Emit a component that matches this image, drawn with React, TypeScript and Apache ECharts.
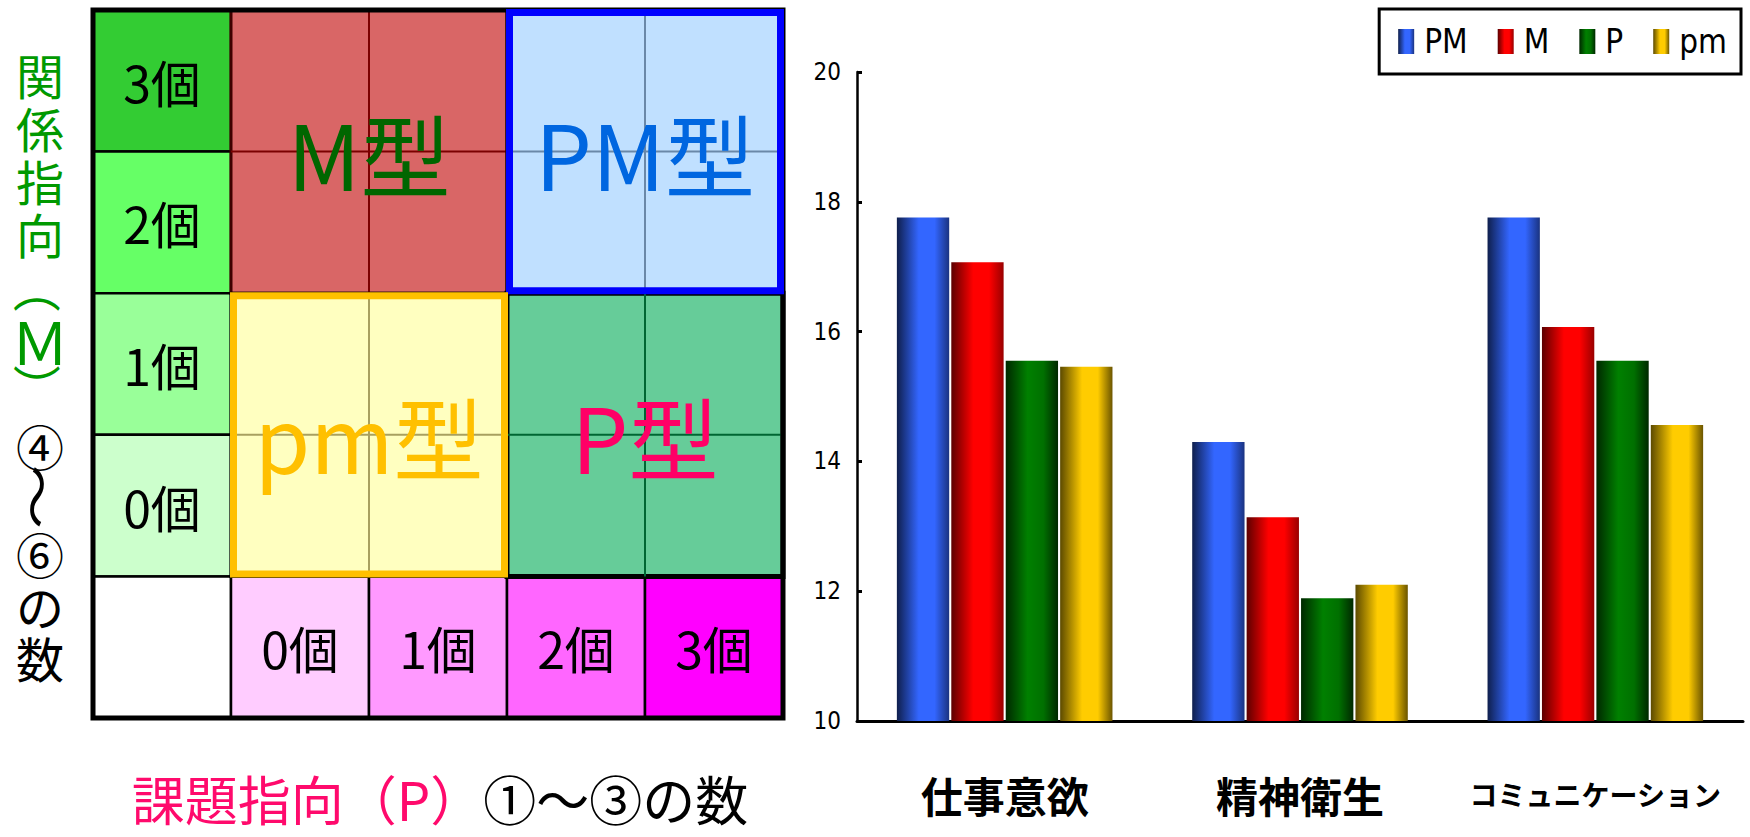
import React, { useEffect, useRef } from 'react';
import * as echarts from 'echarts';

// ---------- Bar chart data ----------
const categories = ['仕事意欲', '精神衛生', 'コミュニケーション'];
const seriesNames = ['PM', 'M', 'P', 'pm'];
const valuesPM = [17.76, 14.3, 17.76];
const valuesM = [17.07, 13.14, 16.07];
const valuesP = [15.55, 11.89, 15.55];
const valuesPm = [15.46, 12.1, 14.56];
const yMin = 10;
const yMax = 20;
const yInterval = 2;

// ---------- PM matrix data ----------
const mCountLabels = ['3個', '2個', '1個', '0個']; // left column, top to bottom
const pCountLabels = ['0個', '1個', '2個', '3個']; // bottom row, left to right
const typeLabels = [
  ['M型', 'PM型'],
  ['pm型', 'P型'],
];
const matrixSize = 5;
const xTitleColored = '課題指向（P）';
const xTitlePlain = '①～③の数';

// ---------- styles ----------
const mCountColors = ['#33cc33', '#66ff66', '#99ff99', '#ccffcc'];
const pCountColors = ['#ffccff', '#ff99ff', '#ff66ff', '#ff00ff'];
const typeFill = [
  ['#d96666', '#c0e0ff'],
  ['#ffffc0', '#66cc99'],
];
const typeTextColor = [
  ['#006600', '#0066e0'],
  ['#ffc000', '#ff0066'],
];
const typeInnerLine = [
  ['#7a0000', '#6a88a8'],
  ['#a8a060', '#006633'],
];
const typeEdge = [
  [{ c: '#400000', w: 3 }, { c: '#000000', w: 3 }],
  [{ c: '#000000', w: 3 }, { c: '#000000', w: 5 }],
];
const typeHighlight = [
  [null, '#0000ff'],
  ['#ffc000', null],
];

const barGradients = [
  ['#0f1f4d', '#3366ff', '#3366ff', '#1a3380'],
  ['#5c0000', '#ff0000', '#ff0000', '#990000'],
  ['#002800', '#008000', '#007000', '#002800'],
  ['#5c4a00', '#ffcc00', '#ffcc00', '#6b5500'],
];

const jpFont = "'Noto Sans CJK JP', sans-serif";
const narrowFont = "'Liberation Sans Narrow', 'DejaVu Sans Condensed', 'Liberation Sans', sans-serif";

const grad = (stops: string[]) =>
  new echarts.graphic.LinearGradient(0, 0, 1, 0, [
    { offset: 0, color: stops[0] },
    { offset: 0.42, color: stops[1] },
    { offset: 0.72, color: stops[2] },
    { offset: 1, color: stops[3] },
  ]);

// header cells of the matrix
const cellItems = [
  ...mCountLabels.map((label, i) => ({ value: [0, i, 1, 1], label, color: mCountColors[i] })),
  { value: [0, 4, 1, 1], label: '', color: '#ffffff' },
  ...pCountLabels.map((label, j) => ({ value: [j + 1, 4, 1, 1], label, color: pCountColors[j] })),
];

const typeItems: any[] = [];
typeLabels.forEach((row, i) =>
  row.forEach((label, j) => typeItems.push({ value: [1 + 2 * j, 2 * i, 2, 2], label, i, j }))
);
const highlightItems = typeItems.filter((c) => typeHighlight[c.i][c.j]);

const cellBox = (api: any) => {
  const a = api.coord([api.value(0), api.value(1)]);
  const b = api.coord([api.value(0) + api.value(2), api.value(1) + api.value(3)]);
  return { x0: a[0], y0: a[1], x1: b[0], y1: b[1] };
};

// vertical y-title pieces (stacked characters; some rotated as in vertical writing)
const verticalTitle: any[] = [
  { t: '関\n係\n指\n向', y: 153.5, c: '#009900', lh: 53 },
  { t: '（', y: 289, c: '#009900', r: -Math.PI / 2 },
  { t: 'Ｍ', y: 340, c: '#009900', f: 58 },
  { t: '）', y: 388, c: '#009900', r: -Math.PI / 2 },
  { t: '④', y: 445, c: '#000000' },
  { t: '～', y: 497, c: '#000000', r: -Math.PI / 2, sx: 1.35 },
  { t: '⑥\nの\n数', y: 605, c: '#000000', lh: 52 },
];

const buildOption = () => {
  const barData = [valuesPM, valuesM, valuesP, valuesPm];
  return {
    animation: false,
    backgroundColor: '#ffffff',
    legend: {
      data: seriesNames,
      right: 9,
      top: 9,
      orient: 'horizontal',
      icon: 'rect',
      itemWidth: 16,
      itemHeight: 25,
      itemGap: 30,
      padding: [16, 14, 16, 19],
      borderColor: '#000',
      borderWidth: 3,
      textStyle: {
        fontFamily: narrowFont,
        fontSize: 33,
        color: '#000',
        padding: [0, 0, 0, 5],
      },
    },
    grid: [
      { left: 857, right: 7, top: 72, bottom: 116 },
      { left: 93, top: 10, width: 690, height: 708 },
    ],
    xAxis: [
      {
        type: 'category',
        gridIndex: 0,
        data: categories,
        axisLine: { lineStyle: { color: '#000', width: 3 } },
        axisTick: { inside: true, length: 16, lineStyle: { color: '#000', width: 2 } },
        axisLabel: {
          margin: 48,
          interval: 0,
          formatter: (v: string) => (v.length > 6 ? `{s|${v}}` : `{b|${v}}`),
          rich: {
            b: { fontFamily: jpFont, fontWeight: 'bold', fontSize: 42, color: '#000', lineHeight: 50 },
            s: { fontFamily: jpFont, fontWeight: 'bold', fontSize: 28, color: '#000', lineHeight: 50 },
          },
        },
      },
      { type: 'value', gridIndex: 1, min: 0, max: matrixSize, show: false },
    ],
    yAxis: [
      {
        type: 'value',
        gridIndex: 0,
        min: yMin,
        max: yMax,
        interval: yInterval,
        axisLine: { show: true, lineStyle: { color: '#000', width: 2.5 } },
        axisTick: { show: true, inside: true, length: 5, lineStyle: { color: '#000', width: 3 } },
        splitLine: { show: false },
        axisLabel: { fontFamily: narrowFont, fontSize: 24, color: '#000', margin: 16 },
      },
      { type: 'value', gridIndex: 1, min: 0, max: matrixSize, inverse: true, show: false },
    ],
    series: [
      ...seriesNames.map((name, k) => ({
        name,
        type: 'bar',
        xAxisIndex: 0,
        yAxisIndex: 0,
        data: barData[k],
        barCategoryGap: '27%',
        barGap: '4%',
        itemStyle: { color: grad(barGradients[k]) },
      })),
      {
        type: 'custom',
        name: 'cells',
        xAxisIndex: 1,
        yAxisIndex: 1,
        z: 2,
        data: cellItems.map((c) => ({ value: c.value, name: c.label })),
        renderItem: (params: any, api: any) => {
          const it = cellItems[params.dataIndex];
          const { x0, y0, x1, y1 } = cellBox(api);
          return {
            type: 'group',
            children: [
              {
                type: 'rect',
                shape: { x: x0, y: y0, width: x1 - x0, height: y1 - y0 },
                style: { fill: it.color, stroke: '#000', lineWidth: 2.5 },
              },
              {
                type: 'text',
                style: {
                  text: it.label,
                  x: (x0 + x1) / 2,
                  y: (y0 + y1) / 2,
                  align: 'center',
                  verticalAlign: 'middle',
                  fontSize: 50,
                  fontFamily: jpFont,
                  fill: '#000',
                },
              },
            ],
          };
        },
      },
      {
        type: 'custom',
        name: 'types',
        xAxisIndex: 1,
        yAxisIndex: 1,
        z: 3,
        data: typeItems.map((c) => ({ value: c.value, name: c.label })),
        renderItem: (params: any, api: any) => {
          const it = typeItems[params.dataIndex];
          const { x0, y0, x1, y1 } = cellBox(api);
          const mx = (x0 + x1) / 2;
          const my = (y0 + y1) / 2;
          const edge = typeEdge[it.i][it.j];
          const inner = typeInnerLine[it.i][it.j];
          return {
            type: 'group',
            children: [
              {
                type: 'rect',
                shape: { x: x0, y: y0, width: x1 - x0, height: y1 - y0 },
                style: { fill: typeFill[it.i][it.j], stroke: edge.c, lineWidth: edge.w },
              },
              { type: 'line', shape: { x1: mx, y1: y0, x2: mx, y2: y1 }, style: { stroke: inner, lineWidth: 2 } },
              { type: 'line', shape: { x1: x0, y1: my, x2: x1, y2: my }, style: { stroke: inner, lineWidth: 2 } },
              {
                type: 'text',
                style: {
                  text: it.label,
                  x: mx,
                  y: my,
                  align: 'center',
                  verticalAlign: 'middle',
                  fontSize: 90,
                  fontFamily: jpFont,
                  fill: typeTextColor[it.i][it.j],
                },
              },
            ],
          };
        },
      },
      {
        type: 'custom',
        name: 'frame',
        xAxisIndex: 1,
        yAxisIndex: 1,
        z: 4,
        data: [{ value: [0, 0, matrixSize, matrixSize] }],
        renderItem: (params: any, api: any) => {
          const { x0, y0, x1, y1 } = cellBox(api);
          return {
            type: 'rect',
            shape: { x: x0, y: y0, width: x1 - x0, height: y1 - y0 },
            style: { fill: 'none', stroke: '#000', lineWidth: 5 },
          };
        },
      },
      {
        type: 'custom',
        name: 'highlight',
        xAxisIndex: 1,
        yAxisIndex: 1,
        z: 5,
        data: highlightItems.map((c) => ({ value: c.value, name: c.label })),
        renderItem: (params: any, api: any) => {
          const it = highlightItems[params.dataIndex];
          const { x0, y0, x1, y1 } = cellBox(api);
          const inset = 2.5;
          return {
            type: 'rect',
            shape: { x: x0 + inset, y: y0 + inset, width: x1 - x0 - 2 * inset, height: y1 - y0 - 2 * inset },
            style: { fill: 'none', stroke: typeHighlight[it.i][it.j], lineWidth: 7 },
          };
        },
      },
    ],
    graphic: [
      ...verticalTitle.map((ch) => ({
        type: 'text',
        x: 40,
        y: ch.y,
        rotation: ch.r || 0,
        scaleX: ch.sx || 1,
        style: {
          text: ch.t,
          x: 0,
          y: 0,
          align: 'center',
          verticalAlign: 'middle',
          fontSize: ch.f || 48,
          lineHeight: ch.lh,
          fontFamily: jpFont,
          fill: ch.c,
        },
      })),
      {
        type: 'text',
        x: 440,
        y: 798,
        style: {
          text: `{p|${xTitleColored}}{k|${xTitlePlain}}`,
          x: 0,
          y: 0,
          align: 'center',
          verticalAlign: 'middle',
          rich: {
            p: { fill: '#ff0a6c', fontSize: 53, fontFamily: jpFont },
            k: { fill: '#000000', fontSize: 53, fontFamily: jpFont },
          },
        },
      },
    ],
  };
};

const App = () => {
  const ref = useRef<HTMLDivElement>(null);
  useEffect(() => {
    if (!ref.current) return;
    const chart = echarts.init(ref.current, null, { renderer: 'svg' });
    chart.setOption(buildOption() as any);
    return () => chart.dispose();
  }, []);
  return (
    <div
      ref={ref}
      style={{ position: 'absolute', left: 0, top: 0, width: 1750, height: 837, background: '#fff' }}
    />
  );
};

export default App;
